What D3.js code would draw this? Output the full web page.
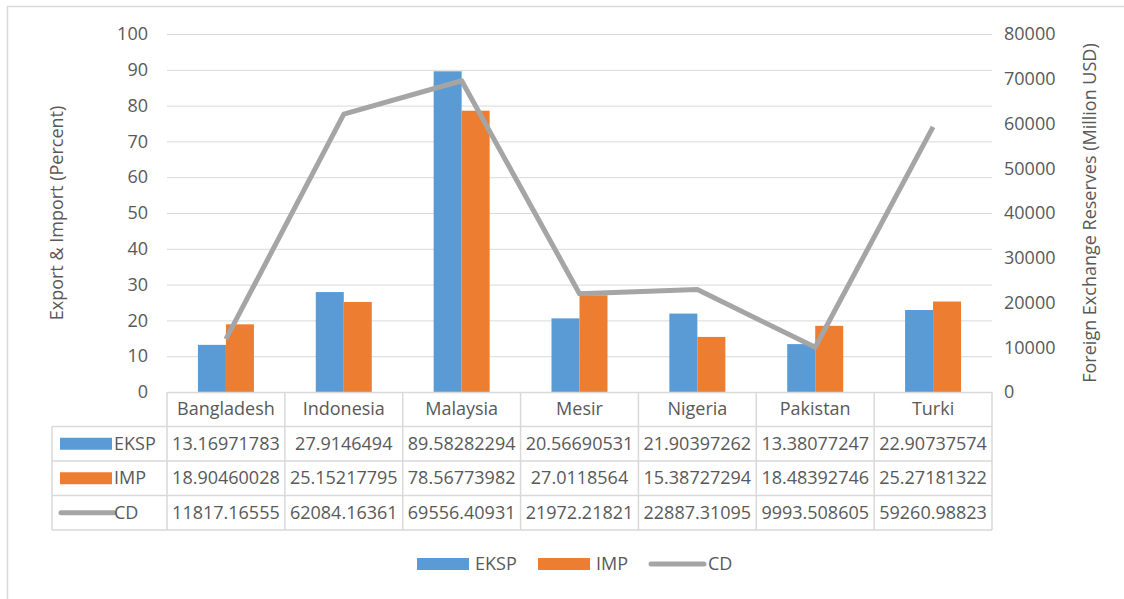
<!DOCTYPE html>
<html>
<head>
<meta charset="utf-8">
<script src="https://cdn.jsdelivr.net/npm/d3@7"></script>
<style>
  body { margin: 0; background: #fff; }
  text { font-family: "Open Sans", "Liberation Sans", sans-serif; fill: #595959; }
</style>
</head>
<body>
<script>
const W = 1124, H = 599;
const countries = ['Bangladesh', 'Indonesia', 'Malaysia', 'Mesir', 'Nigeria', 'Pakistan', 'Turki'];
const eksp = [13.16971783, 27.9146494, 89.58282294, 20.56690531, 21.90397262, 13.38077247, 22.90737574];
const imp = [18.90460028, 25.15217795, 78.56773982, 27.0118564, 15.38727294, 18.48392746, 25.27181322];
const cd = [11817.16555, 62084.16361, 69556.40931, 21972.21821, 22887.31095, 9993.508605, 59260.98823];
const cdLabels = ['11817.16555', '62084.16361', '69556.40931', '21972.21821', '22887.31095', '9993.508605', '59260.98823'];
const leftTicks = [0, 10, 20, 30, 40, 50, 60, 70, 80, 90, 100];
const rightTicks = [0, 10000, 20000, 30000, 40000, 50000, 60000, 70000, 80000];

const colors = { EKSP: '#5B9BD5', IMP: '#ED7D31', CD: '#A5A5A5' };
const pLeft = 167, pRight = 992, pTop = 34, pBottom = 392;
const fs = '18px';

const svg = d3.select('body').append('svg')
    .attr('width', W)
    .attr('height', H);

// chart border (runs off the right and bottom edges)
svg.append('rect')
    .attr('x', 7.5).attr('y', 6.5)
    .attr('width', 1130).attr('height', 610)
    .attr('fill', 'none').attr('stroke', '#D9D9D9').attr('stroke-width', 1.5);

const x = d3.scaleBand().domain(countries).range([pLeft, pRight]);
const y = d3.scaleLinear().domain([0, 100]).range([pBottom, pTop]);
const y2 = d3.scaleLinear().domain([0, 80000]).range([pBottom, pTop]);

// gridlines
svg.append('g').selectAll('line')
    .data(leftTicks.slice(1))
    .join('line')
    .attr('x1', pLeft).attr('x2', pRight)
    .attr('y1', d => y(d) + 0.5).attr('y2', d => y(d) + 0.5)
    .attr('stroke', '#D9D9D9').attr('stroke-width', 1);

// left axis
const ax = svg.append('g')
    .attr('transform', `translate(${pLeft - 19},0)`)
    .call(d3.axisLeft(y).tickValues(leftTicks).tickSize(0).tickPadding(0));
ax.select('.domain').remove();
ax.selectAll('text').style('font-size', fs).attr('fill', '#595959');

// right axis
const ax2 = svg.append('g')
    .attr('transform', `translate(${pRight + 12},0)`)
    .call(d3.axisRight(y2).tickValues(rightTicks).tickFormat(d3.format('d')).tickSize(0).tickPadding(0));
ax2.select('.domain').remove();
ax2.selectAll('text').style('font-size', fs).attr('fill', '#595959');

// axis titles
svg.append('text')
    .attr('transform', `translate(63,${(pTop + pBottom) / 2}) rotate(-90)`)
    .attr('text-anchor', 'middle')
    .style('font-size', fs)
    .text('Export & Import (Percent)');
svg.append('text')
    .attr('transform', `translate(1096,${(pTop + pBottom) / 2}) rotate(-90)`)
    .attr('text-anchor', 'middle')
    .style('font-size', fs)
    .text('Foreign Exchange Reserves (Million USD)');

// bars
const bw = 28;
svg.append('g').selectAll('rect')
    .data(eksp)
    .join('rect')
    .attr('x', (d, i) => x(countries[i]) + x.bandwidth() / 2 - bw)
    .attr('y', d => y(d))
    .attr('width', bw)
    .attr('height', d => y(0) - y(d))
    .attr('fill', colors.EKSP);
svg.append('g').selectAll('rect')
    .data(imp)
    .join('rect')
    .attr('x', (d, i) => x(countries[i]) + x.bandwidth() / 2)
    .attr('y', d => y(d))
    .attr('width', bw)
    .attr('height', d => y(0) - y(d))
    .attr('fill', colors.IMP);

// line
const line = d3.line()
    .x((d, i) => x(countries[i]) + x.bandwidth() / 2)
    .y(d => y2(d));
svg.append('path')
    .datum(cd)
    .attr('d', line)
    .attr('fill', 'none')
    .attr('stroke', colors.CD)
    .attr('stroke-width', 5)
    .attr('stroke-linejoin', 'round');

// data table
const tableLeft = 52, rowH = 34.5;
const rows = [
    { name: 'EKSP', vals: eksp.map(String) },
    { name: 'IMP', vals: imp.map(String) },
    { name: 'CD', vals: cdLabels }
];
const tbl = svg.append('g');
const gridColor = '#D9D9D9';
const bottomT = pBottom + rowH * 4;
tbl.append('line').attr('x1', pLeft).attr('x2', pRight)
    .attr('y1', pBottom + 0.5).attr('y2', pBottom + 0.5).attr('stroke', gridColor).attr('stroke-width', 1.5);
[1, 2, 3, 4].forEach(k => {
    tbl.append('line').attr('x1', tableLeft).attr('x2', pRight)
        .attr('y1', pBottom + rowH * k).attr('y2', pBottom + rowH * k)
        .attr('stroke', gridColor).attr('stroke-width', 1.5);
});
tbl.append('line').attr('x1', tableLeft).attr('x2', tableLeft)
    .attr('y1', pBottom + rowH).attr('y2', bottomT).attr('stroke', gridColor).attr('stroke-width', 1.5);
countries.forEach(c => {
    tbl.append('line').attr('x1', x(c)).attr('x2', x(c))
        .attr('y1', pBottom).attr('y2', bottomT).attr('stroke', gridColor).attr('stroke-width', 1.5);
});
tbl.append('line').attr('x1', pRight).attr('x2', pRight)
    .attr('y1', pBottom).attr('y2', bottomT).attr('stroke', gridColor).attr('stroke-width', 1.5);

tbl.selectAll('text.head')
    .data(countries)
    .join('text')
    .attr('class', 'head')
    .attr('x', d => x(d) + x.bandwidth() / 2)
    .attr('y', pBottom + rowH / 2 + 6)
    .attr('text-anchor', 'middle')
    .style('font-size', fs)
    .text(d => d);

rows.forEach((r, k) => {
    const cy = pBottom + rowH * (k + 1) + rowH / 2;
    if (r.name === 'CD') {
        tbl.append('line').attr('x1', 61).attr('x2', 114)
            .attr('y1', cy).attr('y2', cy)
            .attr('stroke', colors.CD).attr('stroke-width', 5).attr('stroke-linecap', 'round');
    } else {
        tbl.append('rect').attr('x', 60).attr('y', cy - 6)
            .attr('width', 52).attr('height', 12).attr('fill', colors[r.name]);
    }
    tbl.append('text').attr('x', 114).attr('y', cy + 6)
        .style('font-size', fs).text(r.name);
    tbl.selectAll(null)
        .data(r.vals)
        .join('text')
        .attr('x', (d, i) => x(countries[i]) + x.bandwidth() / 2)
        .attr('y', cy + 6)
        .attr('text-anchor', 'middle')
        .style('font-size', fs)
        .text(d => d);
});

// legend
const leg = svg.append('g').attr('transform', 'translate(0,564)');
leg.append('rect').attr('x', 417).attr('y', -6).attr('width', 52).attr('height', 12).attr('fill', colors.EKSP);
leg.append('text').attr('x', 475).attr('y', 6).style('font-size', fs).text('EKSP');
leg.append('rect').attr('x', 538).attr('y', -6).attr('width', 52).attr('height', 12).attr('fill', colors.IMP);
leg.append('text').attr('x', 596).attr('y', 6).style('font-size', fs).text('IMP');
leg.append('line').attr('x1', 651).attr('x2', 704).attr('y1', 0).attr('y2', 0)
    .attr('stroke', colors.CD).attr('stroke-width', 5).attr('stroke-linecap', 'round');
leg.append('text').attr('x', 708).attr('y', 6).style('font-size', fs).text('CD');
</script>
</body>
</html>
